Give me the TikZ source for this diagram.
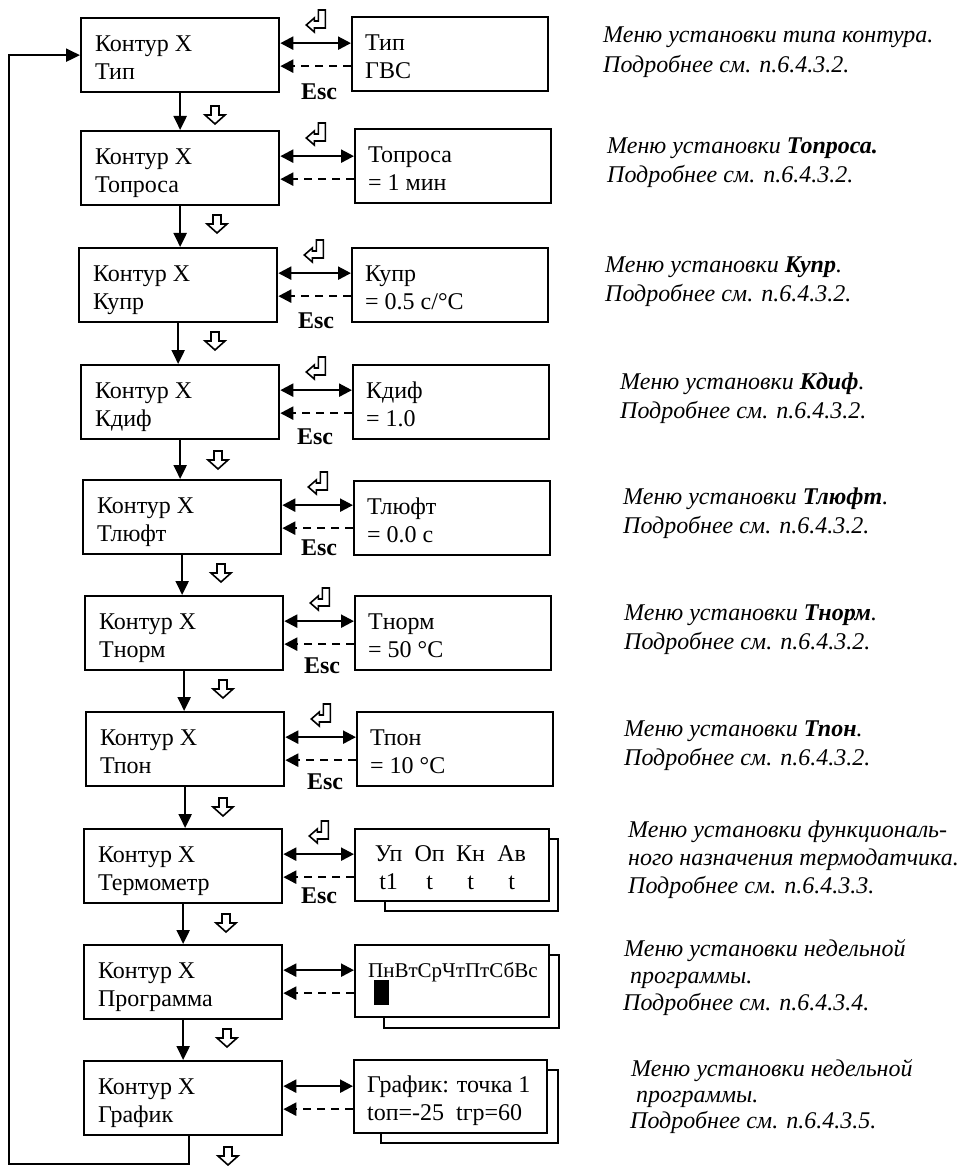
\documentclass[tikz,border=0pt]{standalone}
\usepackage{fontspec}
\setmainfont{Liberation Serif}
\usetikzlibrary{arrows.meta,calc}

% two-line screen text, left aligned in a box of fixed width
\newcommand{\scrtext}[3]{\makebox[#1][l]{\begin{tabular}[t]{@{}l@{}}#2\\#3\end{tabular}}}
% hollow "next" arrow pointing down
\newcommand{\nextkey}[1]{\draw[hollow, shift={#1}] (-4,-9) -- (4,-9) -- (4,0) -- (10,0) -- (0,9) -- (-10,0) -- (-4,0) -- cycle;}
% hollow enter key symbol
\newcommand{\enterkey}[1]{\draw[hollow, shift={#1}] (0,0) -- (8,-7) -- (8,-4) -- (12,-4) -- (12,-15) -- (19,-15) -- (19,3) -- (8,3) -- (8,7) -- cycle;}
\newcommand{\col}[1]{\makebox[41pt]{#1}}

\begin{document}
\begin{tikzpicture}[x=1pt,y=-1pt,
  font=\fontsize{24}{28}\selectfont,
  screen/.style={draw, line width=2.3pt, fill=white, anchor=north west,
    inner ysep=0pt, text height=20pt, text depth=28pt, minimum height=74pt},
  lbox/.style={screen, inner xsep=14pt, minimum width=198pt},
  rbox/.style={screen, inner xsep=13pt, minimum width=196pt},
  backbox/.style={draw, line width=2.3pt, fill=white, anchor=north west, inner sep=0pt},
  desc/.style={anchor=base west, inner sep=0pt, font=\itshape\fontsize{24}{#1}\selectfont},
  desc/.default=30,
  esc/.style={inner sep=0pt, font=\bfseries\fontsize{24}{28}\selectfont},
  arr/.style={line width=2.3pt, -{Triangle[length=14pt,width=13pt]}},
  dbl/.style={line width=2.3pt, {Triangle[length=13pt,width=13pt]}-{Triangle[length=13pt,width=13pt]}},
  back/.style={line width=2.3pt, dash pattern=on 8pt off 6pt, -{Triangle[length=13pt,width=13pt]}},
  hollow/.style={line width=1.6pt, fill=white, line join=miter}
]
\useasboundingbox (0,0) rectangle (961,1166);

% ---- left column: parameter screens of the circuit menu ----
\node[lbox] (L1)  at (80,17)   {\scrtext{170pt}{Контур X}{Тип}};
\node[lbox] (L2)  at (80,130)  {\scrtext{170pt}{Контур X}{Топроса}};
\node[lbox] (L3)  at (78,247)  {\scrtext{170pt}{Контур X}{Купр}};
\node[lbox] (L4)  at (80,364)  {\scrtext{170pt}{Контур X}{Кдиф}};
\node[lbox] (L5)  at (82,479)  {\scrtext{170pt}{Контур X}{Тлюфт}};
\node[lbox] (L6)  at (84,595)  {\scrtext{170pt}{Контур X}{Тнорм}};
\node[lbox] (L7)  at (85,711)  {\scrtext{170pt}{Контур X}{Тпон}};
\node[lbox] (L8)  at (83,828)  {\scrtext{170pt}{Контур X}{Термометр}};
\node[lbox] (L9)  at (83,944)  {\scrtext{170pt}{Контур X}{Программа}};
\node[lbox] (L10) at (83,1060) {\scrtext{170pt}{Контур X}{График}};

% ---- right column: value screens ----
\node[rbox] (R1) at (351,16)  {\scrtext{170pt}{Тип}{ГВС}};
\node[rbox] (R2) at (354,128) {\scrtext{170pt}{Топроса}{= 1 мин}};
\node[rbox] (R3) at (351,247) {\scrtext{170pt}{Купр}{= 0.5 с/°С}};
\node[rbox] (R4) at (352,364) {\scrtext{170pt}{Кдиф}{= 1.0}};
\node[rbox] (R5) at (353,480) {\scrtext{170pt}{Тлюфт}{= 0.0 с}};
\node[rbox] (R6) at (354,595) {\scrtext{170pt}{Тнорм}{= 50 °С}};
\node[rbox] (R7) at (356,711) {\scrtext{170pt}{Тпон}{= 10 °С}};

% multi-page screens: a second sheet behind the first
\node[backbox, minimum width=173pt, minimum height=72pt] (R8b)  at (384,838)  {};
\node[backbox, minimum width=175pt, minimum height=73pt] (R9b)  at (383,954)  {};
\node[backbox, minimum width=177pt, minimum height=73pt] (R10b) at (380,1069) {};
\node[rbox, minimum width=194pt, minimum height=72pt] (R8) at (354,828)
  {\scrtext{168pt}{\col{Уп}\col{Оп}\col{Кн}\col{Ав}}{\col{t1}\col{t}\col{t}\col{t}}};
\node[rbox, minimum width=194pt, minimum height=72pt] (R9) at (354,944)
  {\scrtext{168pt}{{\fontsize{21}{28}\selectfont ПнВтСрЧтПтСбВс}}{\hspace*{6pt}\smash{\rule{15pt}{25pt}}}};
\node[rbox, minimum width=193pt, minimum height=73pt] (R10) at (353,1059)
  {\scrtext{167pt}{График: точка 1}{tоп=-25\ \ tгр=60}};

% ---- transitions between the screens ----
\foreach \a/\b in {L1/L2,L2/L3,L3/L4,L4/L5,L5/L6,L6/L7,L7/L8,L8/L9,L9/L10}
  \draw[arr] (\a.south) -- (\a.south |- \b.north);

\foreach \i in {1,...,10}{
  \draw[dbl] ($(L\i.east)+(0,-12)$) -- ($(R\i.west |- L\i.east)+(0,-12)$);
  \draw[back] ($(R\i.west |- L\i.east)+(0,11)$) -- ($(L\i.east)+(0,11)$);
}

% return from the last screen to the first
\coordinate (loop) at (9,1164);
\draw[arr] ($(L10.south)+(6,0)$) |- (loop) |- (L1.west);

% key symbols
\foreach \i in {1,...,8}{ \enterkey{($(L\i.north east)+(26,8)$)} }
\nextkey{(215,115)} \nextkey{(217,224)} \nextkey{(215,341)} \nextkey{(218,460)}
\nextkey{(221,573)} \nextkey{(223,689)} \nextkey{(223,807)} \nextkey{(226,923)}
\nextkey{(227,1038)} \nextkey{(228,1156)}

\node[esc] (E1) at (319,92)  {Esc};
\node[esc] (E3) at (316,321) {Esc};
\node[esc] (E4) at (315,437) {Esc};
\node[esc] (E5) at (319,548) {Esc};
\node[esc] (E6) at (322,666) {Esc};
\node[esc] (E7) at (325,782) {Esc};
\node[esc] (E8) at (319,896) {Esc};

% ---- explanations ----
\node[desc] (D1) at (603,43) {\begin{tabular}[t]{@{}l@{}}Меню установки типа контура.\\Подробнее см. п.6.4.3.2.\end{tabular}};
\node[desc=29] (D2) at (607,154) {\begin{tabular}[t]{@{}l@{}}Меню установки \textbf{Топроса.}\\Подробнее см. п.6.4.3.2.\end{tabular}};
\node[desc=29] (D3) at (605,272) {\begin{tabular}[t]{@{}l@{}}Меню установки \textbf{Купр}.\\Подробнее см. п.6.4.3.2.\end{tabular}};
\node[desc=29] (D4) at (620,389) {\begin{tabular}[t]{@{}l@{}}Меню установки \textbf{Кдиф}.\\Подробнее см. п.6.4.3.2.\end{tabular}};
\node[desc=29] (D5) at (623,504) {\begin{tabular}[t]{@{}l@{}}Меню установки \textbf{Тлюфт}.\\Подробнее см. п.6.4.3.2.\end{tabular}};
\node[desc=29] (D6) at (624,620) {\begin{tabular}[t]{@{}l@{}}Меню установки \textbf{Тнорм}.\\Подробнее см. п.6.4.3.2.\end{tabular}};
\node[desc=29] (D7) at (624,736) {\begin{tabular}[t]{@{}l@{}}Меню установки \textbf{Тпон}.\\Подробнее см. п.6.4.3.2.\end{tabular}};
\node[desc=28] (D8) at (628,837) {\begin{tabular}[t]{@{}l@{}}Меню установки функциональ-\\ного назначения термодатчика.\\Подробнее см. п.6.4.3.3.\end{tabular}};
\node[desc=27] (D9) at (623,956) {\begin{tabular}[t]{@{}l@{}}\hspace*{1pt}Меню установки недельной\\\hspace*{7pt}программы.\\Подробнее см. п.6.4.3.4.\end{tabular}};
\node[desc=26] (D10) at (630,1076) {\begin{tabular}[t]{@{}l@{}}\hspace*{1pt}Меню установки недельной\\\hspace*{6pt}программы.\\Подробнее см. п.6.4.3.5.\end{tabular}};
\end{tikzpicture}
\end{document}
